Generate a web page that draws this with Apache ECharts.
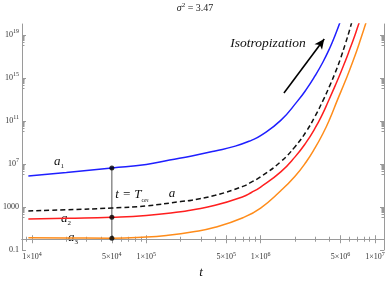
<!DOCTYPE html>
<html><head><meta charset="utf-8">
<script src="https://cdn.jsdelivr.net/npm/echarts@6/dist/echarts.min.js"></script>
<style>html,body{margin:0;padding:0;background:#fff}#c{width:390px;height:282px}</style>
</head><body><div id="c"></div>
<script>
// ---- data (t, a) ----
const t1 = [9.3e3, 2e4, 5e4, 1e5, 1.6e5, 2.5e5, 4e5, 6e5, 8.3e5, 1e6, 1.5e6, 2.1e6, 2.5e6, 3e6, 3.5e6, 4e6, 4.5e6, 5e6];
const a1 = [7.6e5, 1.6e6, 4.2e6, 8.9e6, 2.3e7, 5.5e7, 1.6e8, 4.5e8, 1.55e9, 4.2e9, 1.1e11, 6.8e12, 7.9e13, 1.6e15, 2.8e16, 5.0e17, 1.0e19, 2.0e20];

const tA = [9.3e3, 2e4, 5e4, 1e5, 2e5, 2.5e5, 4e5, 7e5, 8.3e5, 1e6, 1.5e6, 2e6, 2.5e6, 3e6, 3.5e6, 4e6, 4.5e6, 5e6, 5.5e6, 6e6, 6.5e6];
const aMean = [420, 550, 790, 1260, 3160, 4270, 1.2e4, 8.1e4, 2.0e5, 6.3e5, 1.6e7, 4.0e8, 1.0e10, 2.8e11, 7.2e12, 1.6e14, 3.2e15, 6.3e16, 1.4e18, 2.8e19, 6.3e20];

const t2 = [9.3e3, 2e4, 5e4, 1e5, 2e5, 2.5e5, 4e5, 7e5, 8.3e5, 1e6, 1.5e6, 2e6, 2.5e6, 3e6, 3.5e6, 3.9e6, 4.5e6, 5e6, 5.5e6, 6e6, 6.5e6, 7e6, 7.5e6];
const a2 = [76, 89, 110, 160, 355, 525, 1410, 8900, 2.2e4, 7.1e4, 1.8e6, 4.5e7, 1.0e9, 2.2e10, 5.0e11, 6.3e12, 2.0e14, 2.8e15, 3.5e16, 4.0e17, 4.0e18, 4.0e19, 3.5e20];

const t3 = [9.3e3, 2e4, 5e4, 1e5, 1.5e5, 2.5e5, 4e5, 7e5, 1e6, 1.5e6, 2e6, 2.5e6, 3e6, 3.5e6, 4e6, 4.7e6, 5.5e6, 6.5e6, 7.5e6, 8.5e6];
const a3 = [1.38, 1.32, 1.23, 1.58, 2.24, 4.7, 13, 100, 790, 3.2e4, 7.1e5, 1.5e7, 3.2e8, 6.3e9, 1.3e11, 8.9e12, 5.0e14, 5.0e16, 4.0e18, 2.5e20];

const tOn = 5e4;
const aOn = [4.2e6, 110, 1.23];   // a1, a2, a3 at t = T_ON

const xTickLabels = [1e4, 5e4, 1e5, 5e5, 1e6, 5e6, 1e7];
const yTickLabels = [0.1, 1000, 1e7, 1e11, 1e15, 1e19];

const arrowFrom = [1.6e6, 3.9e13];
const arrowTo = [3.6e6, 4.1e18];

// ---- helpers ----
const L = Math.log10;
const xMin = 3.913, xMax = 7.079, yMin = -1, yMax = 20;
const SERIF = 'Liberation Serif, Times New Roman, serif';
const axisCol = '#9a9a9a';

const xMinor = [];
for (let n = 3; n <= 7; n++) for (let k = 1; k <= 9; k++) {
  const v = L(k * Math.pow(10, n));
  if (v > xMin && v < xMax) xMinor.push(v);
}
const xMajor = xTickLabels.map(L);
const yMajor = yTickLabels.map(v => Math.round(L(v)));
const yMinor = [];
yMajor.forEach(e => { for (let k = 1; k <= 9; k++) { const v = L(k * Math.pow(10, e - 1)); if (v > yMin) yMinor.push(v); } });

const rich = {
  n: {fontFamily: SERIF, fontSize: 8, color: '#333', lineHeight: 12},
  s: {fontFamily: SERIF, fontSize: 6, color: '#333', lineHeight: 7, verticalAlign: 'top'}
};
function xFmt(v) {
  const e = Math.floor(v + 1e-6);
  const m = Math.round(Math.pow(10, v - e));
  return '{n|' + m + '×10}{s|' + e + '}';
}
function yFmt(v) {
  const e = Math.round(v);
  if (e === -1) return '{n|0.1}';
  if (e === 3) return '{n|1000}';
  return '{n|10}{s|' + e + '}';
}
function xAx(pos, vals, len, labels, line) {
  return {type: 'value', position: pos, min: xMin, max: xMax, splitLine: {show: false},
    axisLine: {show: line, lineStyle: {color: axisCol, width: 1}},
    axisTick: {show: true, inside: true, length: len, customValues: vals, lineStyle: {color: axisCol}},
    axisLabel: labels ? {show: true, customValues: xMajor, formatter: xFmt, rich: rich, margin: 1} : {show: false}};
}
function yAx(pos, vals, len, labels, line) {
  return {type: 'value', position: pos, min: yMin, max: yMax, splitLine: {show: false},
    axisLine: {show: line, lineStyle: {color: axisCol, width: 1}},
    axisTick: {show: true, inside: true, length: len, customValues: vals, lineStyle: {color: axisCol}},
    axisLabel: labels ? {show: true, customValues: yMajor, formatter: yFmt, rich: rich, margin: 3} : {show: false}};
}
function curve(t, a, color, dashed) {
  return {type: 'line', xAxisIndex: 0, yAxisIndex: 0, data: t.map((v, i) => [L(v), L(a[i])]),
    smooth: 0.5, symbol: 'none', clip: true, silent: true,
    lineStyle: {color: color, width: 1.5, type: dashed ? [5, 3] : 'solid'}, z: 3};
}

const chart = echarts.init(document.getElementById('c'), null, {renderer: 'canvas'});
chart.setOption({
  animation: false,
  backgroundColor: '#fff',
  grid: {left: 20, right: 6, top: 24, bottom: 32},
  xAxis: [xAx('bottom', xMajor, 4, true, true), xAx('bottom', xMinor, 2.5, false, false),
          xAx('top', xMajor, 4, false, true), xAx('top', xMinor, 2.5, false, false)],
  yAxis: [yAx('left', yMajor, 4, true, true), yAx('left', yMinor, 2.5, false, false),
          yAx('right', yMajor, 4, false, true), yAx('right', yMinor, 2.5, false, false)],
  series: [
    {type: 'line', data: aOn.map(v => [L(tOn), L(v)]).filter((d, i) => i !== 1), symbol: 'none',
     lineStyle: {color: '#555', width: 1}, silent: true, z: 2},
    curve(t3, a3, '#ff8c1a', false),
    curve(t2, a2, '#ff1f1f', false),
    curve(tA, aMean, '#111', true),
    Object.assign(curve(t1, a1, '#1f1fff', false), {
      markLine: {silent: true, symbol: ['none', 'arrow'], symbolSize: [7, 10], label: {show: false},
        lineStyle: {color: '#000', width: 1.6, type: 'solid'},
        data: [[{coord: [L(arrowFrom[0]), L(arrowFrom[1])]}, {coord: [L(arrowTo[0]), L(arrowTo[1])]}]]}
    }),
    {type: 'scatter', data: aOn.map(v => [L(tOn), L(v)]), symbol: 'circle', symbolSize: 5,
     itemStyle: {color: '#000'}, silent: true, z: 5}
  ],
  graphic: [
    {type: 'text', left: 'center', top: 2, style: {
      text: '{i|σ}{s|2}{n| = 3.47}', rich: {
        i: {fontFamily: SERIF, fontStyle: 'italic', fontSize: 10, lineHeight: 13, fill: '#222'},
        s: {fontFamily: SERIF, fontSize: 7, lineHeight: 8, verticalAlign: 'top', fill: '#222'},
        n: {fontFamily: SERIF, fontSize: 10, lineHeight: 13, fill: '#222'}}}},
    {type: 'text', x: 201, y: 273, style: {text: 't', font: 'italic 13px ' + SERIF, fill: '#111', textAlign: 'center', textVerticalAlign: 'middle'}},
    {type: 'text', x: 268, y: 43, style: {text: 'Isotropization', font: 'italic 13.5px ' + SERIF, fill: '#111', textAlign: 'center', textVerticalAlign: 'middle'}},
    {type: 'text', x: 59, y: 162, style: {text: '{a|a}{b|1}', textAlign: 'center', textVerticalAlign: 'middle', rich: {
      a: {fontFamily: SERIF, fontStyle: 'italic', fontSize: 13, lineHeight: 16, fill: '#111'},
      b: {fontFamily: SERIF, fontSize: 7, lineHeight: 8, verticalAlign: 'bottom', fill: '#111'}}}},
    {type: 'text', x: 66, y: 219, style: {text: '{a|a}{b|2}', textAlign: 'center', textVerticalAlign: 'middle', rich: {
      a: {fontFamily: SERIF, fontStyle: 'italic', fontSize: 13, lineHeight: 16, fill: '#111'},
      b: {fontFamily: SERIF, fontSize: 7, lineHeight: 8, verticalAlign: 'bottom', fill: '#111'}}}},
    {type: 'text', x: 73, y: 238, style: {text: '{a|a}{b|3}', textAlign: 'center', textVerticalAlign: 'middle', rich: {
      a: {fontFamily: SERIF, fontStyle: 'italic', fontSize: 13, lineHeight: 16, fill: '#111'},
      b: {fontFamily: SERIF, fontSize: 7, lineHeight: 8, verticalAlign: 'bottom', fill: '#111'}}}},
    {type: 'text', x: 172, y: 194, style: {text: 'a', font: 'italic 13px ' + SERIF, fill: '#111', textAlign: 'center', textVerticalAlign: 'middle'}},
    {type: 'text', x: 132, y: 195, style: {text: '{a|t = T}{b|ON}', textAlign: 'center', textVerticalAlign: 'middle', rich: {
      a: {fontFamily: SERIF, fontStyle: 'italic', fontSize: 13, lineHeight: 16, fill: '#111'},
      b: {fontFamily: SERIF, fontSize: 5, lineHeight: 7, verticalAlign: 'bottom', fill: '#111'}}}}
  ]
});
</script>
</body></html>
